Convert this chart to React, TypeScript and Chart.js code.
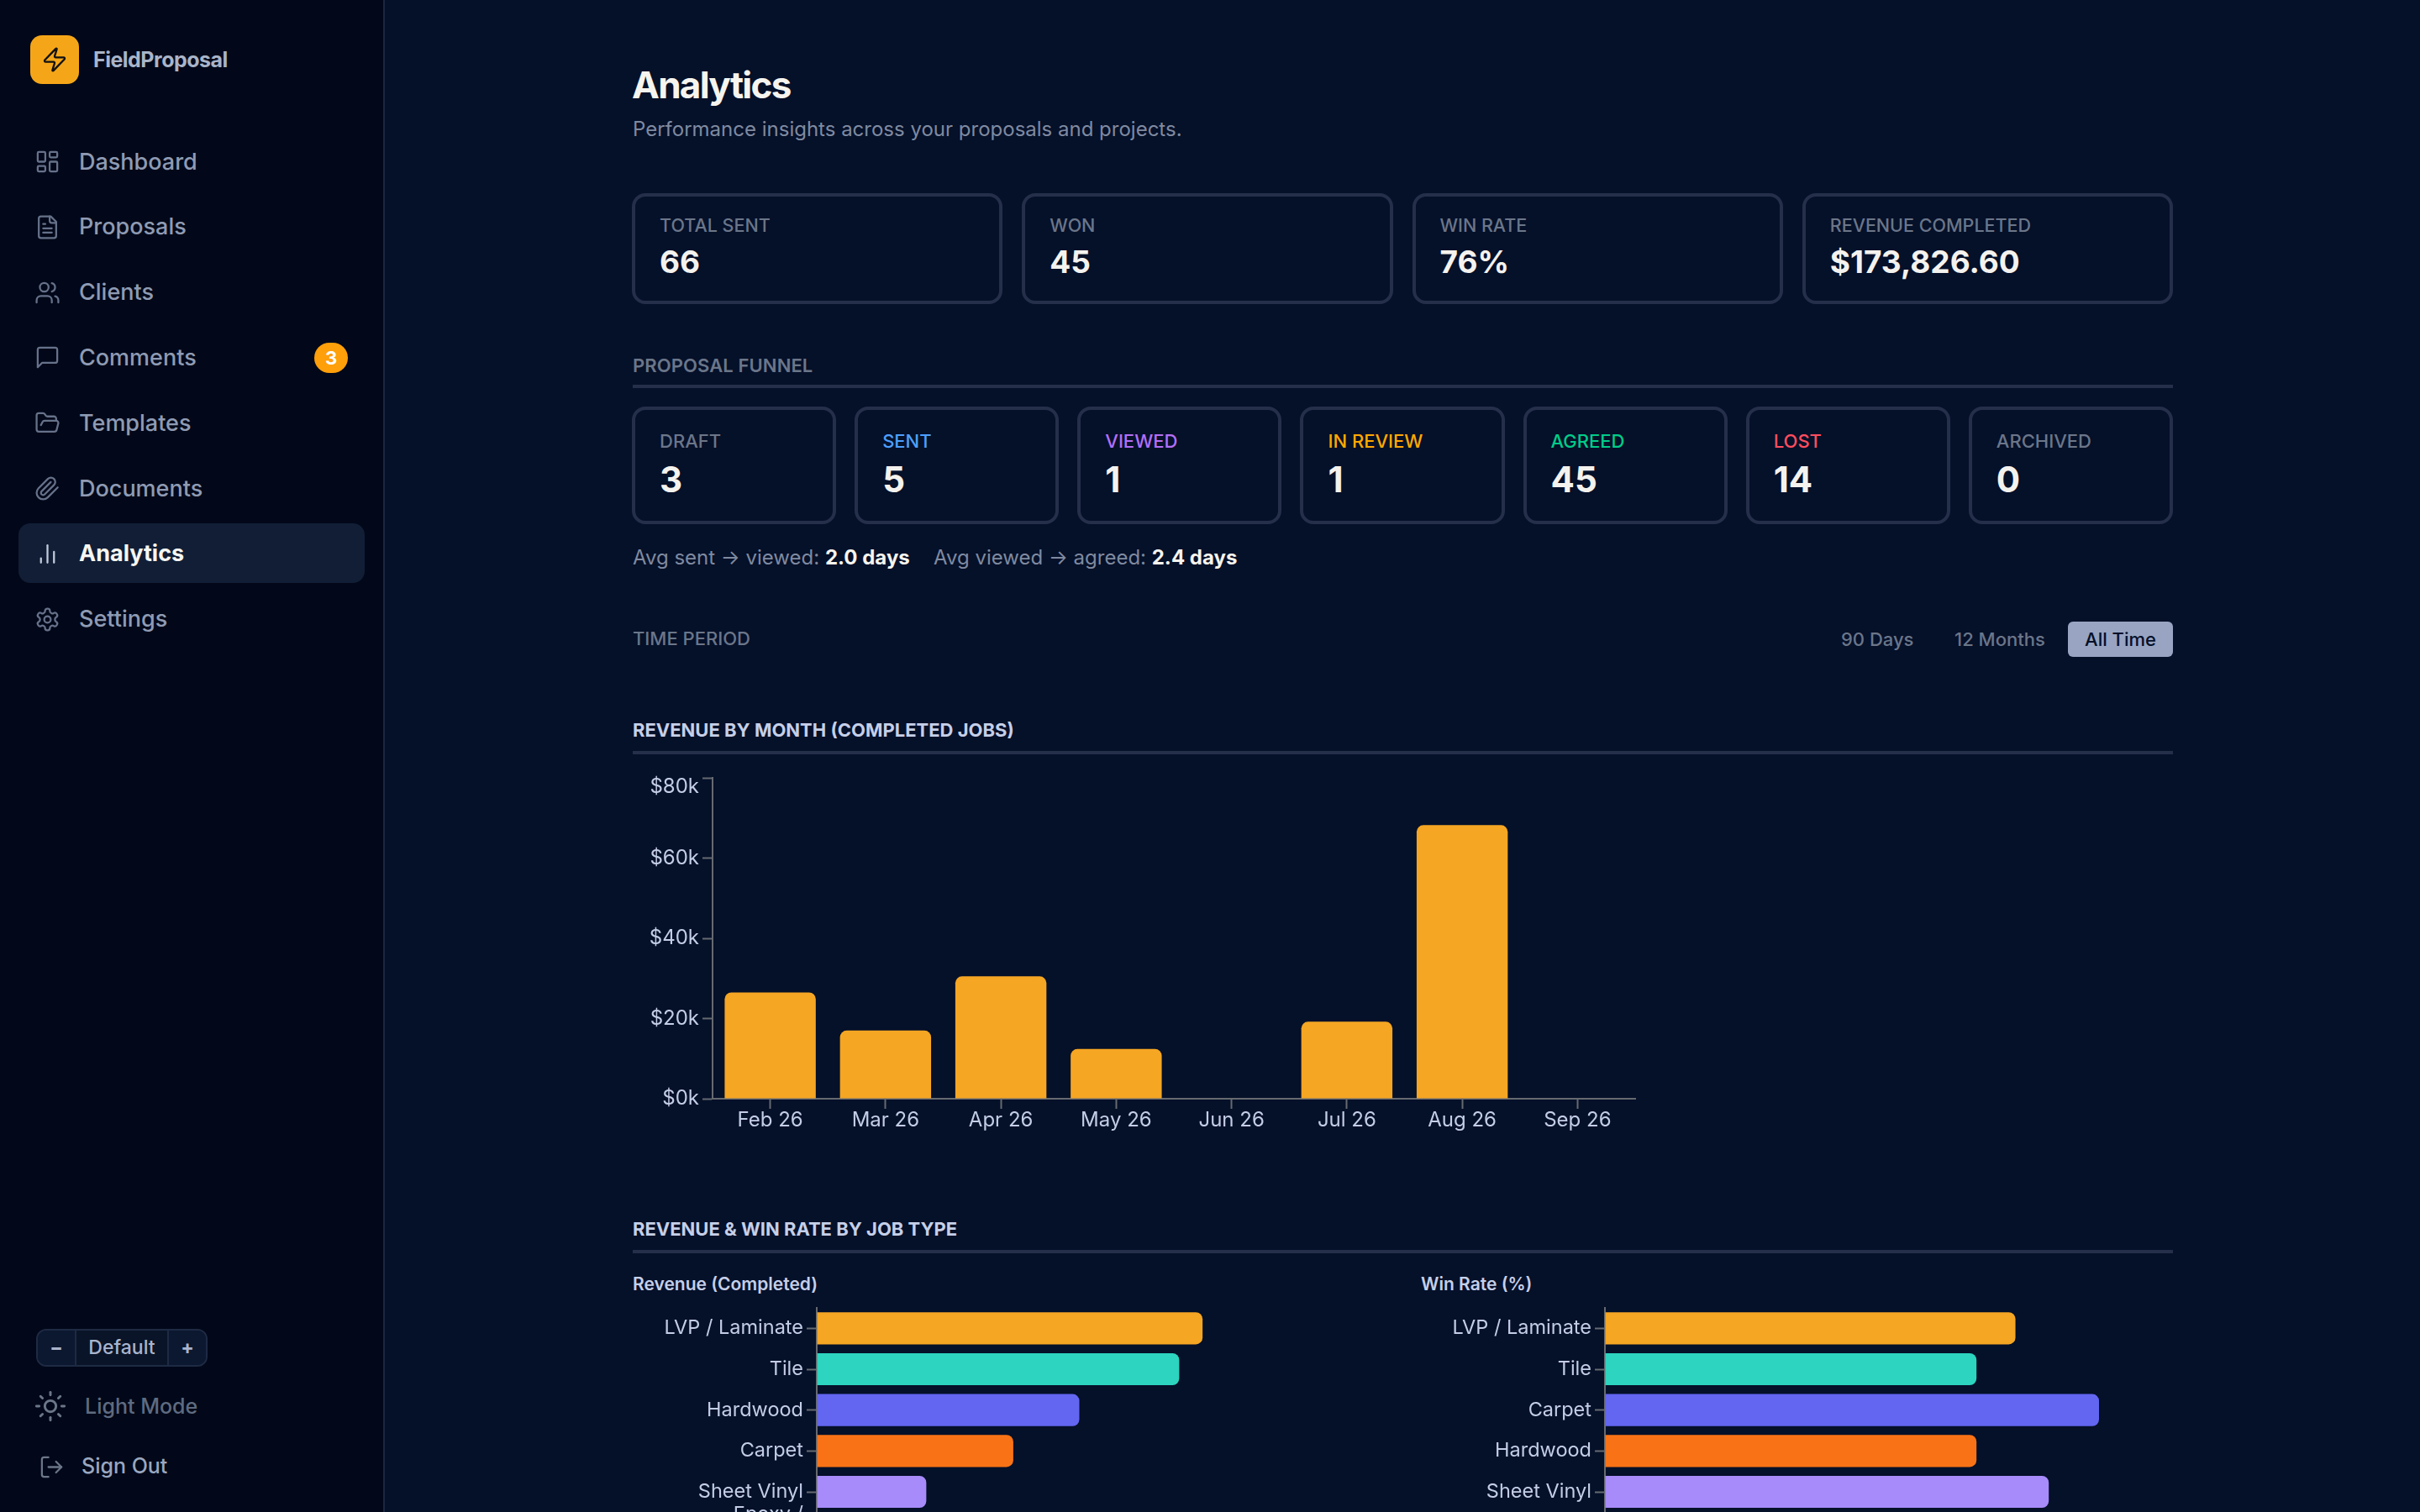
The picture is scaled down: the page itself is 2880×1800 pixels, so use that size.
import React, { useEffect, useRef } from 'react';
import { Chart, registerables } from 'chart.js';

Chart.register(...registerables);

const FONT = 'Inter, sans-serif';
const TICK = '#c3cde6';
const AXIS = '#666a70';
const LINE = '#252f4a';

const months = ['Feb 26', 'Mar 26', 'Apr 26', 'May 26', 'Jun 26', 'Jul 26', 'Aug 26', 'Sep 26'];
const monthRevenue = [26500, 17000, 30500, 12400, 0, 19200, 68200, 0];
const monthTicks = [0, 20000, 40000, 60000, 80000];

const revenueTypes = ['LVP / Laminate', 'Tile', 'Hardwood', 'Carpet', 'Sheet Vinyl', ['Epoxy /', 'Polished']];
const revenueValues = [47900, 45000, 32600, 24400, 13600, 6400];

const winTypes = ['LVP / Laminate', 'Tile', 'Carpet', 'Hardwood', 'Sheet Vinyl', 'Other'];
const winValues = [72.7, 65.8, 87.5, 65.8, 78.6, 50];

const typeColors = ['#f5a623', '#2dd4bf', '#6366f1', '#f97316', '#a78bfa', '#f472b6'];

const stats = [
	['TOTAL SENT', '66'],
	['WON', '45'],
	['WIN RATE', '76%'],
	['REVENUE COMPLETED', '$173,826.60'],
];

const funnelNames = ['DRAFT', 'SENT', 'VIEWED', 'IN REVIEW', 'AGREED', 'LOST', 'ARCHIVED'];
const funnelCounts = [3, 5, 1, 1, 45, 14, 0];
const funnelColors = ['#6b7689', '#4d9fff', '#b36ef7', '#ffa800', '#00cc88', '#ff4d5e', '#6b7689'];

const icons: Record<string, React.ReactNode> = {
	Dashboard: <><rect x="3" y="3" width="7" height="9" rx="1" /><rect x="14" y="3" width="7" height="5" rx="1" /><rect x="14" y="12" width="7" height="9" rx="1" /><rect x="3" y="16" width="7" height="5" rx="1" /></>,
	Proposals: <><path d="M15 2H6a2 2 0 0 0-2 2v16a2 2 0 0 0 2 2h12a2 2 0 0 0 2-2V7Z" /><path d="M14 2v4a2 2 0 0 0 2 2h4" /><path d="M10 9H8" /><path d="M16 13H8" /><path d="M16 17H8" /></>,
	Clients: <><path d="M16 21v-2a4 4 0 0 0-4-4H6a4 4 0 0 0-4 4v2" /><circle cx="9" cy="7" r="4" /><path d="M22 21v-2a4 4 0 0 0-3-3.87" /><path d="M16 3.13a4 4 0 0 1 0 7.75" /></>,
	Comments: <path d="M21 15a2 2 0 0 1-2 2H7l-4 4V5a2 2 0 0 1 2-2h14a2 2 0 0 1 2 2z" />,
	Templates: <path d="m6 14 1.5-2.9A2 2 0 0 1 9.24 10H20a2 2 0 0 1 1.94 2.5l-1.54 6a2 2 0 0 1-1.95 1.5H4a2 2 0 0 1-2-2V5a2 2 0 0 1 2-2h3.9a2 2 0 0 1 1.69.9l.81 1.2a2 2 0 0 0 1.67.9H18a2 2 0 0 1 2 2v2" />,
	Documents: <path d="m21.44 11.05-9.19 9.19a6 6 0 0 1-8.49-8.49l8.57-8.57A4 4 0 1 1 18 8.84l-8.59 8.57a2 2 0 0 1-2.83-2.83l8.49-8.48" />,
	Analytics: <><path d="M6 20v-4" /><path d="M12 20V4" /><path d="M18 20V10" /></>,
	Settings: <><path d="M12.22 2h-.44a2 2 0 0 0-2 2v.18a2 2 0 0 1-1 1.73l-.43.25a2 2 0 0 1-2 0l-.15-.08a2 2 0 0 0-2.73.73l-.22.38a2 2 0 0 0 .73 2.73l.15.1a2 2 0 0 1 1 1.72v.51a2 2 0 0 1-1 1.74l-.15.09a2 2 0 0 0-.73 2.73l.22.38a2 2 0 0 0 2.73.73l.15-.08a2 2 0 0 1 2 0l.43.25a2 2 0 0 1 1 1.73V20a2 2 0 0 0 2 2h.44a2 2 0 0 0 2-2v-.18a2 2 0 0 1 1-1.73l.43-.25a2 2 0 0 1 2 0l.15.08a2 2 0 0 0 2.73-.73l.22-.39a2 2 0 0 0-.73-2.73l-.15-.08a2 2 0 0 1-1-1.74v-.5a2 2 0 0 1 1-1.74l.15-.09a2 2 0 0 0 .73-2.73l-.22-.38a2 2 0 0 0-2.73-.73l-.15.08a2 2 0 0 1-2 0l-.43-.25a2 2 0 0 1-1-1.73V4a2 2 0 0 0-2-2z" /><circle cx="12" cy="12" r="3" /></>,
	Sun: <><circle cx="12" cy="12" r="4" /><path d="M12 2v2" /><path d="M12 20v2" /><path d="m4.93 4.93 1.41 1.41" /><path d="m17.66 17.66 1.41 1.41" /><path d="M2 12h2" /><path d="M20 12h2" /><path d="m6.34 17.66-1.41 1.41" /><path d="m19.07 4.93-1.41 1.41" /></>,
	SignOut: <><path d="M9 21H5a2 2 0 0 1-2-2V5a2 2 0 0 1 2-2h4" /><polyline points="16 17 21 12 16 7" /><line x1="21" y1="12" x2="9" y2="12" /></>,
	Zap: <path d="M4 14a1 1 0 0 1-.78-1.63l9.9-10.2a.5.5 0 0 1 .86.46l-1.92 6.02A1 1 0 0 0 13 10h7a1 1 0 0 1 .78 1.63l-9.9 10.2a.5.5 0 0 1-.86-.46l1.92-6.02A1 1 0 0 0 11 14z" />,
};

const navItems = ['Dashboard', 'Proposals', 'Clients', 'Comments', 'Templates', 'Documents', 'Analytics', 'Settings'];

const Icon = ({ name, x, y, size, color }: { name: string; x: number; y: number; size: number; color: string }) => (
	<svg viewBox="0 0 24 24" width={size} height={size} fill="none" stroke={color} strokeWidth={1.75} strokeLinecap="round" strokeLinejoin="round"
		style={{ position: 'absolute', left: x - size / 2, top: y - size / 2 }}>
		{icons[name]}
	</svg>
);

// text placed by its left edge and vertical centre
const Label = ({ x, y, size, weight = 400, color, spacing = 0, children }: any) => (
	<div style={{ position: 'absolute', left: x, top: y, transform: 'translateY(-50%)', fontSize: size, fontWeight: weight, color, letterSpacing: spacing, whiteSpace: 'nowrap', lineHeight: 1.2 }}>
		{children}
	</div>
);

const Rule = ({ y }: { y: number }) => (
	<div style={{ position: 'absolute', left: 753, width: 1833, top: y, height: 4, background: LINE }} />
);

const Card = ({ label, color, labelSize, value, valueSize, labelTop, valueTop }: any) => (
	<div style={{ flex: 1, position: 'relative', boxSizing: 'border-box', border: `4px solid ${LINE}`, borderRadius: 16 }}>
		<Label x={29} y={labelTop} size={labelSize} weight={500} color={color}>{label}</Label>
		<Label x={29} y={valueTop} size={valueSize} weight={700} color="#f4f2ee">{value}</Label>
	</div>
);

const Plot = ({ left, top, width, height, config }: any) => {
	const canvas = useRef<HTMLCanvasElement>(null!);

	useEffect(() => {
		const chart = new Chart(canvas.current, config);
		return () => chart.destroy();
	}, []);

	return <div style={{ position: 'absolute', left, top, width, height }}>
		<canvas ref={canvas}></canvas>
	</div>;
};

const axisGrid = {
	display: true,
	drawOnChartArea: false,
	drawTicks: true,
	offset: false,
	tickLength: 12,
	tickWidth: 2,
	tickColor: AXIS,
};
const axisBorder = { display: true, color: AXIS, width: 2 };
const tickFont = { family: FONT, size: 24, lineHeight: 0.92 };

const monthConfig: any = {
	type: 'bar',
	data: {
		labels: months,
		datasets: [{ data: monthRevenue, backgroundColor: '#f5a623', borderRadius: 8, barPercentage: 0.79, categoryPercentage: 1 }],
	},
	options: {
		animation: false,
		responsive: true,
		maintainAspectRatio: false,
		layout: { padding: { top: 30, right: 10 } },
		plugins: { legend: { display: false }, tooltip: { enabled: false } },
		scales: {
			x: {
				grid: axisGrid,
				border: axisBorder,
				afterFit: (s: any) => { s.height = 60; },
				ticks: { color: TICK, font: tickFont, padding: 3, maxRotation: 0, autoSkip: false },
			},
			y: {
				min: 0,
				max: 80000,
				grid: axisGrid,
				border: axisBorder,
				afterFit: (s: any) => { s.width = 95; },
				afterBuildTicks: (s: any) => { s.ticks = monthTicks.map(value => ({ value })); },
				ticks: {
					color: TICK,
					font: tickFont,
					padding: 4,
					// top label sits just under its tick
					callback: (v: any) => v === 80000 ? ['', `$${v / 1000}k`] : `$${v / 1000}k`,
				},
			},
		},
	},
};

const typeConfig = (labels: any[], values: number[], max: number): any => ({
	type: 'bar',
	data: {
		labels,
		datasets: [{ data: values, backgroundColor: typeColors, borderRadius: 8, barPercentage: 0.785, categoryPercentage: 1 }],
	},
	options: {
		indexAxis: 'y',
		animation: false,
		responsive: true,
		maintainAspectRatio: false,
		layout: { padding: { top: 50, right: 4 } },
		plugins: { legend: { display: false }, tooltip: { enabled: false } },
		scales: {
			x: {
				min: 0,
				max,
				grid: axisGrid,
				border: axisBorder,
				afterFit: (s: any) => { s.height = 50; },
				// the value axis lies below the fold of the page
				ticks: { display: false },
			},
			y: {
				grid: axisGrid,
				border: axisBorder,
				afterFit: (s: any) => { s.width = 218; },
				ticks: { color: TICK, font: { family: FONT, size: 23.5, lineHeight: 1.85 }, padding: 4, autoSkip: false },
			},
		},
	},
});

export default function App() {
	useEffect(() => {
		document.body.style.margin = '0';
		document.body.style.overflow = 'hidden';
	}, []);

	return (
		<div style={{ position: 'relative', width: 2880, height: 1800, overflow: 'hidden', background: '#051029', fontFamily: FONT }}>
			<div style={{ position: 'absolute', left: 0, top: 0, width: 456, height: 1800, background: '#020819', borderRight: '2px solid #1c2640' }} />

			<div style={{ position: 'absolute', left: 36, top: 42, width: 58, height: 58, borderRadius: 14, background: '#f5a618' }} />
			<Icon name="Zap" x={65} y={71} size={32} color="#111" />
			<Label x={111} y={71} size={25} weight={700} color="#a9b4c8" spacing={-0.5}>FieldProposal</Label>

			<div style={{ position: 'absolute', left: 22, top: 623, width: 412, height: 71, borderRadius: 14, background: '#111e36' }} />
			{navItems.map((name, i) => (
				<React.Fragment key={name}>
					<Icon name={name} x={56} y={192.5 + i * 77.8} size={31} color={name === 'Analytics' ? '#c3cbdb' : '#66718a'} />
					<Label x={94} y={192.5 + i * 77.8} size={27} weight={name === 'Analytics' ? 700 : 500} color={name === 'Analytics' ? '#f6f6f2' : '#8f9bb3'}>{name}</Label>
				</React.Fragment>
			))}
			<div style={{ position: 'absolute', left: 374, top: 408, width: 40, height: 36, borderRadius: 18, background: '#ff9f0a', color: '#fff', fontSize: 22, fontWeight: 700, textAlign: 'center', lineHeight: '36px' }}>3</div>

			<div style={{ position: 'absolute', left: 43, top: 1582, width: 204, height: 45, boxSizing: 'border-box', display: 'flex', border: '2px solid #1e2a44', borderRadius: 12, overflow: 'hidden', color: '#a9b4cc', fontSize: 23, textAlign: 'center', lineHeight: '41px', background: '#0a1428' }}>
				<div style={{ width: 44, background: '#0c1830', borderRight: '2px solid #1e2a44', fontWeight: 700 }}>−</div>
				<div style={{ flex: 1, fontWeight: 500 }}>Default</div>
				<div style={{ width: 44, background: '#0c1830', borderLeft: '2px solid #1e2a44', fontWeight: 700 }}>+</div>
			</div>
			<Icon name="Sun" x={60} y={1674} size={40} color="#6b7689" />
			<Label x={101} y={1674} size={25} weight={500} color="#5f6b80">Light Mode</Label>
			<Icon name="SignOut" x={61} y={1746} size={31} color="#6b7689" />
			<Label x={97} y={1745} size={25} weight={500} color="#9aa7c0">Sign Out</Label>

			<Label x={752} y={101} size={44} weight={700} color="#f6f4ee" spacing={-1.7}>Analytics</Label>
			<Label x={753} y={154} size={24} color="#7f8aa0">Performance insights across your proposals and projects.</Label>

			<div style={{ position: 'absolute', left: 752, top: 230, width: 1834, height: 132, display: 'flex', gap: 23 }}>
				{stats.map(([label, value]) => (
					<Card key={label} label={label} color="#6b7689" labelSize={21.5} value={value} valueSize={37} labelTop={35} valueTop={78} />
				))}
			</div>

			<Label x={753} y={435} size={22} weight={600} color="#6b7689" spacing={0.1}>PROPOSAL FUNNEL</Label>
			<Rule y={458} />

			<div style={{ position: 'absolute', left: 752, top: 484, width: 1834, height: 140, display: 'flex', gap: 22 }}>
				{funnelNames.map((name, i) => (
					<Card key={name} label={name} color={funnelColors[i]} labelSize={22} value={funnelCounts[i]} valueSize={42} labelTop={37} valueTop={83} />
				))}
			</div>

			<Label x={753} y={664} size={24} color="#7f8aa0">Avg sent → viewed: <b style={{ color: '#f6f4ee' }}>2.0 days</b></Label>
			<Label x={1111} y={664} size={24} color="#7f8aa0">Avg viewed → agreed: <b style={{ color: '#f6f4ee' }}>2.4 days</b></Label>

			<Label x={753} y={760} size={22} weight={500} color="#6b7689">TIME PERIOD</Label>
			<Label x={2191} y={761} size={22} weight={500} color="#6b7689">90 Days</Label>
			<Label x={2326} y={761} size={22} weight={500} color="#6b7689">12 Months</Label>
			<div style={{ position: 'absolute', left: 2461, top: 740, width: 125, height: 42, borderRadius: 6, background: '#98a4c2', color: '#050f28', fontSize: 22, fontWeight: 500, textAlign: 'center', lineHeight: '42px' }}>All Time</div>

			<Label x={753} y={869} size={22} weight={700} color="#c5cfe8">REVENUE BY MONTH (COMPLETED JOBS)</Label>
			<Rule y={894} />
			<Plot left={753} top={896} width={1203} height={472} config={monthConfig} />

			<Label x={753} y={1463} size={22} weight={700} color="#c5cfe8">REVENUE &amp; WIN RATE BY JOB TYPE</Label>
			<Rule y={1488} />
			<Label x={753} y={1529} size={21} weight={600} color="#c5cfe8">Revenue (Completed)</Label>
			<Label x={1691} y={1529} size={21} weight={600} color="#c5cfe8">Win Rate (%)</Label>
			<Plot left={754} top={1507} width={893} height={392} config={typeConfig(revenueTypes, revenueValues, 70000)} />
			<Plot left={1692} top={1507} width={894} height={392} config={typeConfig(winTypes, winValues, 100)} />
		</div>
	);
}
